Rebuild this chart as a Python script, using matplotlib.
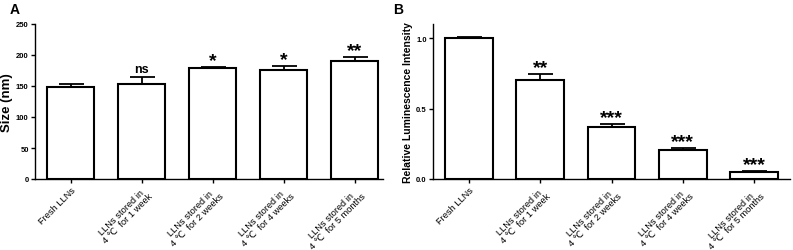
import matplotlib
matplotlib.use("Agg")
import matplotlib.pyplot as plt
import numpy as np

plt.rcParams['font.family'] = ['Liberation Sans', 'DejaVu Sans']

categories = ["Fresh LLNs",
              "LLNs stored in\n4 \u2103  for 1 week",
              "LLNs stored in\n4 \u2103  for 2 weeks",
              "LLNs stored in\n4 \u2103  for 4 weeks",
              "LLNs stored in\n4 \u2103  for 5 months"]

size_vals = [148, 154, 179, 176, 191]
size_err = [6, 11, 2, 6, 5]
size_sig = ["", "ns", "*", "*", "**"]

lum_vals = [1.0, 0.70, 0.366, 0.203, 0.052]
lum_err = [0.01, 0.045, 0.024, 0.014, 0.005]
lum_sig = ["", "**", "***", "***", "***"]

W, H = 793, 251
fig = plt.figure(figsize=(W / 100, H / 100), dpi=100)

def make_ax(l, r, t, b):
    return fig.add_axes([l / W, 1 - b / H, (r - l) / W, (b - t) / H])

axA = make_ax(35, 383, 25, 180)
axB = make_ax(433, 790, 25, 180)

def draw(ax, vals, errs, sigs, ylim, yticks, yticklabels, ylabel, ylabel_size):
    x = np.arange(len(vals))
    ax.bar(x, vals, width=0.67, color='white', edgecolor='black', linewidth=1.5, zorder=2)
    ax.errorbar(x, vals, yerr=[np.zeros(len(errs)), errs], fmt='none', ecolor='black',
                elinewidth=1.3, capsize=9, capthick=1.3, zorder=1)
    for xi, v, e, s in zip(x, vals, errs, sigs):
        if not s:
            continue
        if s == "ns":
            ax.annotate(s, (xi, v + e), xytext=(0, 1), textcoords='offset points',
                        ha='center', va='bottom', fontsize=9, fontweight='bold')
        else:
            ax.annotate(s, (xi, v + e), xytext=(0, 1.5), textcoords='offset points',
                        ha='center', va='baseline', fontsize=14, fontweight='bold')
    ax.set_ylim(*ylim)
    ax.set_yticks(yticks)
    ax.set_yticklabels(yticklabels, fontsize=5.5, fontweight='bold')
    ax.set_xticks(x)
    ax.set_xticklabels(categories, rotation=45, ha='right', rotation_mode='anchor',
                       fontsize=6.7, multialignment='center', linespacing=0.95)
    ax.set_ylabel(ylabel, fontsize=ylabel_size, fontweight='bold', labelpad=2)
    for sp in ['top', 'right']:
        ax.spines[sp].set_visible(False)
    for sp in ['left', 'bottom']:
        ax.spines[sp].set_linewidth(1.0)
    ax.tick_params(axis='both', direction='out', length=3, width=1, pad=1.5)

draw(axA, size_vals, size_err, size_sig, (0, 250), [0, 50, 100, 150, 200, 250],
     ["0", "50", "100", "150", "200", "250"], "Size (nm)", 9.5)
axA.set_xlim(-0.5, 4.4)

draw(axB, lum_vals, lum_err, lum_sig, (0, 1.1), [0.0, 0.5, 1.0],
     ["0.0", "0.5", "1.0"], "Relative Luminescence Intensity", 7.5)
axB.set_xlim(-0.5, 4.5)

fig.text(10 / W, 1 - 10 / H, "A", fontsize=10, fontweight='bold', va='center', ha='left')
fig.text(393 / W, 1 - 10 / H, "B", fontsize=10, fontweight='bold', va='center', ha='left')

fig.savefig("out.png", dpi=100)
